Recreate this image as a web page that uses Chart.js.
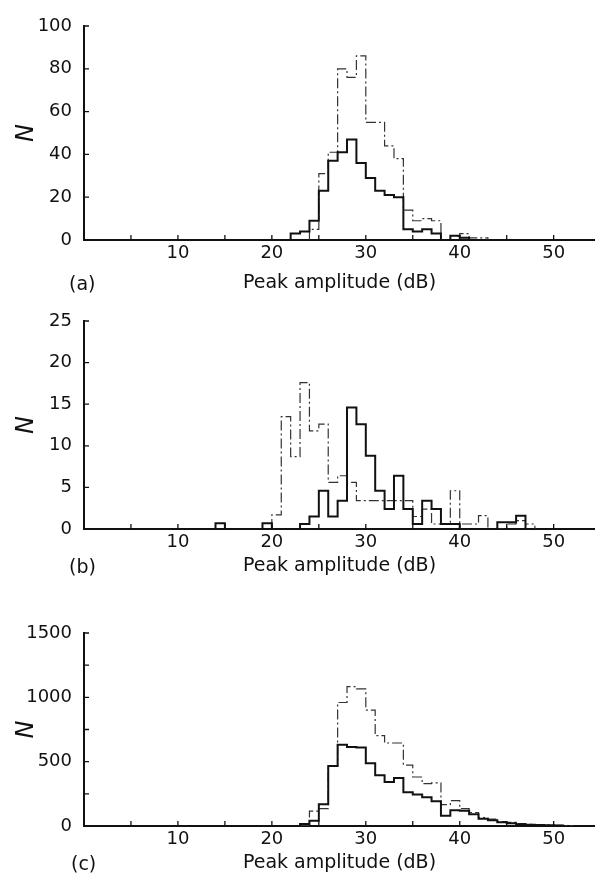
<!DOCTYPE html>
<html>
<head>
<meta charset="utf-8">
<script src="https://cdn.jsdelivr.net/npm/chart.js@4.4.0/dist/chart.umd.min.js"></script>
<style>
  body { margin: 0; background: #fff; }
  #wrap { position: relative; width: 595px; height: 874px; overflow: hidden; }
  canvas { position: absolute; left: 0; }
  .tag { position: absolute; font-family: 'DejaVu Sans', sans-serif; font-size: 19px; line-height: 22px; color: #111; }
</style>
</head>
<body>
<div id="wrap">
  <canvas id="chartA" width="595" height="300" style="top:0px"></canvas>
  <canvas id="chartB" width="595" height="290" style="top:295px"></canvas>
  <canvas id="chartC" width="595" height="274" style="top:600px"></canvas>
  <div class="tag" style="left:69px;top:272px">(a)</div>
  <div class="tag" style="left:69px;top:555px">(b)</div>
  <div class="tag" style="left:71px;top:852px">(c)</div>
</div>
<script>
// histogram counts per 1 dB bin, starting at the given left edge (dB)
const aSolidStart = 22;
const aSolid = [3, 4, 9, 23, 37, 41, 47, 36, 29, 23, 21, 20, 5, 4, 5, 3, 0, 2, 1];
const aDashStart = 24;
const aDash = [5, 31, 41, 80, 76, 86, 55, 55, 44, 38, 14, 9, 10, 9, 0, 2, 3, 1, 1];

const bSolidStart = 14;
const bSolid = [0.7, 0, 0, 0, 0, 0.7, 0, 0, 0, 0.6, 1.5, 4.6, 1.5, 3.4, 14.6, 12.6, 8.8, 4.6, 2.4, 6.4,
                2.4, 0.6, 3.4, 2.4, 0.6, 0.6, 0, 0, 0, 0, 0.8, 0.8, 1.6];
const bDashStart = 20;
const bDash = [1.7, 13.5, 8.7, 17.6, 11.8, 12.6, 5.6, 6.4, 5.6, 3.4, 3.4, 3.4, 3.4, 3.4, 3.4, 1.5, 2.4,
               0.6, 0.6, 4.6, 0.6, 0.6, 1.6, 0, 0, 0.6, 1.0, 0.6];

const cSolidStart = 23;
const cSolid = [15, 40, 170, 466, 631, 614, 610, 487, 395, 342, 373, 263, 245, 224, 192, 79, 123, 118,
                92, 57, 45, 30, 22, 14, 10, 7, 5, 3];
const cDashStart = 23;
const cDash = [5, 115, 135, 466, 960, 1084, 1066, 900, 702, 645, 645, 473, 381, 329, 335, 166, 197, 135,
               105, 66, 53, 35, 28, 18, 12, 10, 8, 6, 4];

// axis ticks
const xTicks = [0, 5, 10, 15, 20, 25, 30, 35, 40, 45, 50];
const xLabelled = [10, 20, 30, 40, 50];
const xMax = 54.4;

Chart.defaults.font.family = "'DejaVu Sans', sans-serif";
Chart.defaults.color = '#111';

function histPoints(start, counts) {
  const pts = [{ x: start, y: 0 }];
  counts.forEach((v, i) => pts.push({ x: start + i, y: v }));
  pts.push({ x: start + counts.length, y: 0 });
  return pts;
}

// small tick marks pointing into the plot
const inwardTicks = {
  id: 'inwardTicks',
  afterDraw(chart) {
    const { ctx, chartArea, scales } = chart;
    ctx.save();
    ctx.strokeStyle = '#111';
    ctx.lineWidth = 1.3;
    ctx.beginPath();
    scales.x.ticks.forEach(t => {
      if (t.value === 0) return;
      const px = scales.x.getPixelForValue(t.value);
      ctx.moveTo(px, chartArea.bottom);
      ctx.lineTo(px, chartArea.bottom - 5);
    });
    scales.y.ticks.forEach(t => {
      if (t.value === 0) return;
      const py = scales.y.getPixelForValue(t.value);
      ctx.moveTo(chartArea.left, py);
      ctx.lineTo(chartArea.left + 5, py);
    });
    ctx.stroke();
    ctx.restore();
  }
};

function makeChart(id, solidStart, solid, dashStart, dash, opt) {
  return new Chart(document.getElementById(id), {
    type: 'line',
    data: {
      datasets: [
        {
          data: histPoints(solidStart, solid),
          stepped: 'before',
          borderColor: '#111',
          borderWidth: 2,
          pointRadius: 0,
          fill: false
        },
        {
          data: histPoints(dashStart, dash),
          stepped: 'before',
          borderColor: '#333',
          borderWidth: 1.2,
          borderDash: [10, 3, 2, 3],
          pointRadius: 0,
          fill: false
        }
      ]
    },
    options: {
      responsive: false,
      animation: false,
      layout: { padding: { top: opt.padTop, left: 0, right: 0, bottom: 0 } },
      plugins: { legend: { display: false }, tooltip: { enabled: false } },
      scales: {
        x: {
          type: 'linear',
          min: 0,
          max: xMax,
          afterBuildTicks: s => { s.ticks = xTicks.map(v => ({ value: v })); },
          afterFit: s => { s.height = opt.axisH; },
          grid: { drawOnChartArea: false, drawTicks: false },
          border: { display: true, color: '#111', width: 2 },
          ticks: {
            padding: 3,
            maxRotation: 0,
            font: { size: 18 },
            callback: v => xLabelled.includes(v) ? String(v) : ''
          },
          title: {
            display: true,
            text: 'Peak amplitude (dB)',
            font: { size: 19 },
            padding: { top: 0, bottom: opt.titlePad }
          }
        },
        y: {
          min: 0,
          max: opt.yMax,
          afterBuildTicks: s => {
            const t = [];
            for (let v = 0; v <= opt.yMax; v += opt.minor) t.push({ value: v });
            s.ticks = t;
          },
          afterFit: s => { s.width = 84; },
          grid: { drawOnChartArea: false, drawTicks: false },
          border: { display: true, color: '#111', width: 2 },
          ticks: {
            padding: 12,
            font: { size: 18 },
            callback: v => v % opt.major === 0 ? String(v) : ''
          },
          title: {
            display: true,
            text: 'N',
            font: { size: 24, style: 'italic' },
            padding: { top: 12, bottom: 0 }
          }
        }
      }
    },
    plugins: [inwardTicks]
  });
}

makeChart('chartA', aSolidStart, aSolid, aDashStart, aDash,
  { padTop: 26, axisH: 60, titlePad: 6, yMax: 100, major: 20, minor: 20 });
makeChart('chartB', bSolidStart, bSolid, bDashStart, bDash,
  { padTop: 26, axisH: 56, titlePad: 8, yMax: 25, major: 5, minor: 5 });
makeChart('chartC', cSolidStart, cSolid, cDashStart, cDash,
  { padTop: 33, axisH: 48, titlePad: 0, yMax: 1500, major: 500, minor: 250 });
</script>
</body>
</html>
